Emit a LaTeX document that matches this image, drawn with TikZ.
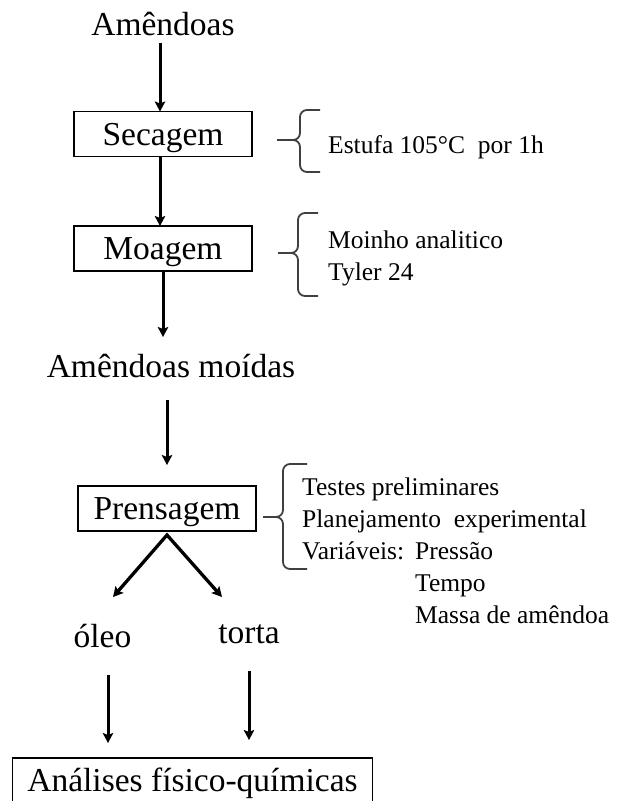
\documentclass[tikz,border=0pt]{standalone}
\usepackage{fontspec}
\setmainfont{Liberation Serif}
\usetikzlibrary{positioning,arrows.meta}

\begin{document}
\begin{tikzpicture}[x=1pt, y=-1pt,
    txt/.style={inner sep=0pt, outer sep=0pt, font=\fontsize{33.5pt}{40pt}\selectfont, text height=24pt, text depth=2pt},
    stage/.style={txt, draw, line width=1.6pt, minimum width=178pt, minimum height=45pt},
    note/.style={inner sep=0pt, align=left, font=\fontsize{25.5pt}{32pt}\selectfont},
    curl/.style={line width=1.8pt, draw=black!75, rounded corners=7pt},
    arrow/.style={->, >={Stealth[length=10pt,width=10.5pt,inset=2pt]}, line width=3pt}
]
\useasboundingbox (0,0) rectangle (622,801);
\clip (0,0) rectangle (622,801);

\node[txt] (amend) at (163,24) {Amêndoas};
\node[stage, below=74.5pt of amend] (sec) {Secagem};
\node[stage, below=69.5pt of sec] (moa) {Moagem};
\node[txt, below=82pt of moa, xshift=8pt] (moidas) {Amêndoas moídas};
\node[stage, below=107pt of moidas, xshift=-4pt] (pren) {Prensagem};
\node[txt, below=92pt of pren, xshift=-64.5pt] (oleo) {óleo};
\node[txt, below=88pt of pren, xshift=82pt] (torta) {torta};
\node[stage, minimum width=0pt, inner xsep=15pt, below=109pt of oleo, xshift=90pt] (anal) {Análises físico-químicas};

% notes beside the stages
\node[note, anchor=base west] (estufa) at (328,153) {Estufa 105°C\ \ por 1h};
\node[note, anchor=north west] (moinho) at (328,228) {\rule{0pt}{20pt}Moinho analitico\\Tyler 24};
\node[note, anchor=north west] (testes) at (302,475) {\rule{0pt}{20pt}Testes preliminares\\Planejamento\ \ experimental\\\makebox[113pt][l]{Variáveis:}Pressão\\\hspace*{113pt}Tempo\\\hspace*{113pt}Massa de amêndoa};

\draw[curl] (320,110) -- (300,110) -- (300,140) -- (277,140);
\draw[curl] (320,172) -- (300,172) -- (300,140) -- (277,140);
\draw[curl] (318,213) -- (298,213) -- (298,253) -- (278,253);
\draw[curl] (318,296) -- (298,296) -- (298,253) -- (278,253);
\draw[curl] (307,464) -- (283,464) -- (283,517) -- (263,517);
\draw[curl] (307,569) -- (283,569) -- (283,517) -- (263,517);

% main flow
\draw[arrow, shorten <=6pt] ([xshift=-3pt]amend.south) -- ([xshift=-3pt]amend.south |- sec.north);
\draw[arrow] ([xshift=-3pt]sec.south) -- ([xshift=-3pt]sec.south |- moa.north);
\draw[arrow, shorten >=16pt] (moa.south) -- (moa.south |- moidas.north);
\draw[arrow, shorten <=21pt, shorten >=21pt] (pren.north |- moidas.south) -- (pren.north);

\coordinate[below=4pt of pren] (fork);
\coordinate[below left=62pt and 54pt of fork] (oleotip);
\coordinate[below right=62pt and 55pt of fork] (tortatip);
\draw[arrow, <->, line width=3.3pt] (oleotip) -- (fork) -- (tortatip);

\draw[arrow, shorten <=26pt, shorten >=15pt] ([xshift=5.5pt]oleo.south) -- ([xshift=5.5pt]oleo.south |- anal.north);
\draw[arrow, shorten <=26pt, shorten >=18pt] (torta.south) -- (torta.south |- anal.north);

\end{tikzpicture}
\end{document}
